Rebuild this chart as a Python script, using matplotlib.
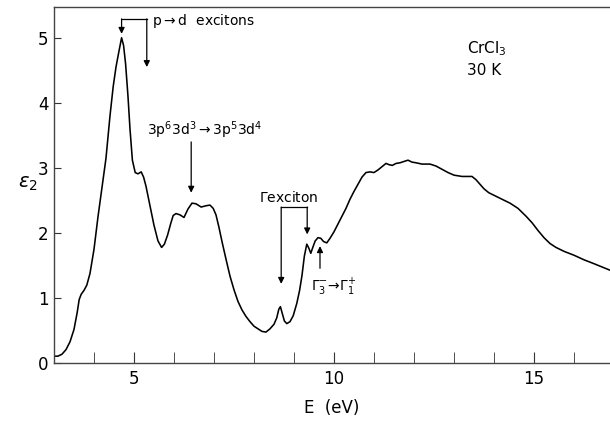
import matplotlib
matplotlib.use('Agg')
import matplotlib.pyplot as plt
from matplotlib.ticker import MultipleLocator

# photon energy (eV) and epsilon_2
energy = [3.0, 3.1, 3.2, 3.3, 3.4, 3.5, 3.58, 3.63, 3.68, 3.75, 3.82, 3.9, 4.0,
          4.1, 4.2, 4.3, 4.4, 4.48, 4.55, 4.62, 4.69, 4.74, 4.79, 4.85, 4.9, 4.96,
          5.03, 5.1, 5.18, 5.24, 5.3, 5.4, 5.5, 5.6, 5.69, 5.76, 5.84, 5.92, 5.98,
          6.05, 6.15, 6.25, 6.35, 6.45, 6.55, 6.68, 6.8, 6.9, 6.98, 7.05, 7.12, 7.2,
          7.3, 7.4, 7.5, 7.6, 7.7, 7.8, 7.9, 8.0, 8.1, 8.2, 8.3, 8.4, 8.5, 8.57,
          8.62, 8.66, 8.7, 8.76, 8.82, 8.9, 8.98, 9.07, 9.14, 9.2, 9.26, 9.32, 9.37,
          9.42, 9.47, 9.53, 9.6, 9.67, 9.74, 9.82, 9.9, 10.0, 10.1, 10.2, 10.3,
          10.4, 10.5, 10.6, 10.7, 10.8, 10.9, 11.0, 11.1, 11.2, 11.3, 11.38, 11.46,
          11.55, 11.65, 11.75, 11.85, 11.95, 12.05, 12.2, 12.4, 12.55, 12.7, 12.85,
          13.0, 13.2, 13.45, 13.55, 13.65, 13.75, 13.87, 14.0, 14.2, 14.4, 14.6,
          14.8, 14.95, 15.1, 15.25, 15.4, 15.55, 15.75, 16.0, 16.25, 16.5, 16.7, 16.9]
eps2 = [0.11, 0.11, 0.14, 0.21, 0.33, 0.52, 0.78, 0.98, 1.06, 1.12, 1.2, 1.38, 1.75,
        2.25, 2.7, 3.15, 3.8, 4.25, 4.55, 4.78, 5.0, 4.88, 4.6, 4.1, 3.6, 3.12,
        2.93, 2.91, 2.94, 2.86, 2.72, 2.42, 2.12, 1.88, 1.78, 1.83, 1.97, 2.15, 2.27,
        2.3, 2.28, 2.24, 2.37, 2.46, 2.45, 2.4, 2.42, 2.43, 2.38, 2.28, 2.1, 1.87,
        1.6, 1.34, 1.13, 0.95, 0.82, 0.72, 0.64, 0.57, 0.53, 0.49, 0.48, 0.53, 0.6, 0.7,
        0.83, 0.87, 0.78, 0.65, 0.61, 0.64, 0.73, 0.92, 1.12, 1.35, 1.65, 1.83, 1.77,
        1.69, 1.78, 1.88, 1.93, 1.92, 1.87, 1.85, 1.92, 2.02, 2.14, 2.26, 2.38,
        2.52, 2.64, 2.75, 2.86, 2.93, 2.94, 2.93, 2.97, 3.02, 3.07, 3.05, 3.04,
        3.07, 3.08, 3.1, 3.12, 3.09, 3.08, 3.06, 3.06, 3.03, 2.98, 2.93,
        2.89, 2.87, 2.87, 2.82, 2.75, 2.68, 2.62, 2.58, 2.52, 2.46, 2.38,
        2.26, 2.16, 2.04, 1.93, 1.84, 1.78, 1.72, 1.66, 1.59, 1.53, 1.48, 1.43]

x_major = [5, 10, 15]
y_major = [0, 1, 2, 3, 4, 5]

plt.rcParams['font.family'] = 'DejaVu Sans'

fig = plt.figure(figsize=(6.1, 4.21), dpi=100)
ax = fig.add_axes([0.0885, 0.137, 0.9115, 0.846])

ax.plot(energy, eps2, color='black', lw=1.15)

ax.set_xlim(3, 16.9)
ax.set_ylim(0, 5.47)
ax.set_xticks(x_major)
ax.xaxis.set_minor_locator(MultipleLocator(1))
ax.set_yticks(y_major)
ax.tick_params(axis='both', which='both', direction='in', labelsize=12,
               color='#333333')
ax.tick_params(axis='x', which='both', length=8, pad=5)
ax.tick_params(axis='y', length=5, pad=4)
for side in ['left', 'bottom', 'top']:
    ax.spines[side].set_color('#444444')
    ax.spines[side].set_linewidth(1.0)
ax.spines['right'].set_visible(False)

ax.set_xlabel('E  (eV)', fontsize=12, labelpad=8)
fig.text(0.045, 0.565, r'$\varepsilon_2$', fontsize=14, ha='center', va='center')

arrow = dict(arrowstyle='-|>', lw=0.9, color='black', mutation_scale=9,
             shrinkA=0, shrinkB=0)

# p -> d excitons bracket
pd_left, pd_right, pd_top = 4.69, 5.32, 5.29
ax.plot([pd_left, pd_right], [pd_top, pd_top], color='black', lw=0.9)
ax.annotate('', xy=(pd_left, 5.06), xytext=(pd_left, pd_top), arrowprops=arrow)
ax.annotate('', xy=(pd_right, 4.55), xytext=(pd_right, pd_top), arrowprops=arrow)
ax.text(5.44, 5.25, r'p$\rightarrow$d  excitons', fontsize=10, ha='left', va='center')

# charge transfer
ax.text(6.78, 3.58, r'3p$^6$3d$^3$$\rightarrow$3p$^5$3d$^4$', fontsize=10,
        ha='center', va='center')
ax.annotate('', xy=(6.43, 2.62), xytext=(6.43, 3.40), arrowprops=arrow)

# Gamma exciton bracket
gx_left, gx_right, gx_top = 8.68, 9.33, 2.40
ax.plot([gx_left, gx_right], [gx_top, gx_top], color='black', lw=0.9)
ax.annotate('', xy=(gx_left, 1.22), xytext=(gx_left, gx_top), arrowprops=arrow)
ax.annotate('', xy=(gx_right, 1.98), xytext=(gx_right, gx_top), arrowprops=arrow)
ax.text(8.88, 2.55, r'$\Gamma$exciton', fontsize=10, ha='center', va='center')

# Gamma3- -> Gamma1+
ax.annotate('', xy=(9.65, 1.80), xytext=(9.65, 1.46), arrowprops=arrow)
ax.text(9.42, 1.16, r'$\Gamma_3^{-}\!\rightarrow\!\Gamma_1^{+}$', fontsize=10,
        ha='left', va='center')

ax.text(13.32, 4.84, r'CrCl$_3$', fontsize=11, ha='left', va='center')
ax.text(13.32, 4.50, '30 K', fontsize=11, ha='left', va='center')

fig.savefig('out.png', dpi=100)
